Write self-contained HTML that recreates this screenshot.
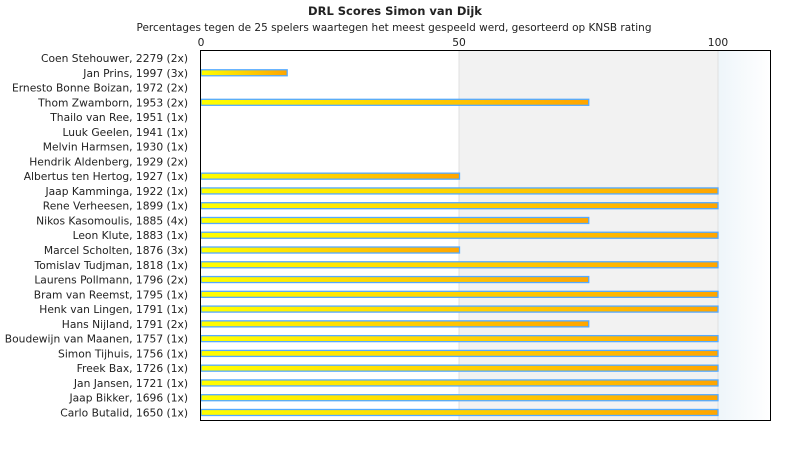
<!DOCTYPE html>
<html><head><meta charset="utf-8"><style>
body{margin:0;background:#fff;width:790px;height:450px;overflow:hidden}
text{font-family:"DejaVu Sans","Liberation Sans",sans-serif;font-size:10.7px;fill:#222}
</style></head><body>
<svg width="790" height="450" xmlns="http://www.w3.org/2000/svg">
<defs>
<linearGradient id="bar" x1="0" x2="1" y1="0" y2="0"><stop offset="0" stop-color="#ffff00"/><stop offset="1" stop-color="#ffa500"/></linearGradient>
<linearGradient id="bg3" x1="0" x2="1"><stop offset="0" stop-color="#eef5fa"/><stop offset="1" stop-color="#ffffff"/></linearGradient>
</defs>
<text x="395" y="15" text-anchor="middle" style="font-size:11.5px;font-weight:bold">DRL Scores Simon van Dijk</text>
<text x="394" y="31" text-anchor="middle" textLength="515" lengthAdjust="spacingAndGlyphs">Percentages tegen de 25 spelers waartegen het meest gespeeld werd, gesorteerd op KNSB rating</text>
<rect x="459" y="50" width="259" height="370" fill="#f2f2f2"/>
<rect x="718" y="50" width="52" height="370" fill="url(#bg3)"/>
<line x1="459" y1="50" x2="459" y2="420" stroke="#e0e0e0"/>
<line x1="718" y1="50" x2="718" y2="420" stroke="#e0e0e0"/>
<text x="201" y="46" text-anchor="middle">0</text>
<text x="459" y="46" text-anchor="middle">50</text>
<text x="718" y="46" text-anchor="middle">100</text>
<g id="rows"></g>
<rect x="200.5" y="50.5" width="570" height="370" fill="none" stroke="#000"/>
</svg>
<script>
var d=[["Coen Stehouwer, 2279 (2x)",0],["Jan Prins, 1997 (3x)",16.67],["Ernesto Bonne Boizan, 1972 (2x)",0],["Thom Zwamborn, 1953 (2x)",75],["Thailo van Ree, 1951 (1x)",0],["Luuk Geelen, 1941 (1x)",0],["Melvin Harmsen, 1930 (1x)",0],["Hendrik Aldenberg, 1929 (2x)",0],["Albertus ten Hertog, 1927 (1x)",50],["Jaap Kamminga, 1922 (1x)",100],["Rene Verheesen, 1899 (1x)",100],["Nikos Kasomoulis, 1885 (4x)",75],["Leon Klute, 1883 (1x)",100],["Marcel Scholten, 1876 (3x)",50],["Tomislav Tudjman, 1818 (1x)",100],["Laurens Pollmann, 1796 (2x)",75],["Bram van Reemst, 1795 (1x)",100],["Henk van Lingen, 1791 (1x)",100],["Hans Nijland, 1791 (2x)",75],["Boudewijn van Maanen, 1757 (1x)",100],["Simon Tijhuis, 1756 (1x)",100],["Freek Bax, 1726 (1x)",100],["Jan Jansen, 1721 (1x)",100],["Jaap Bikker, 1696 (1x)",100],["Carlo Butalid, 1650 (1x)",100]];
var g=document.getElementById("rows"),s="";
d.forEach(function(r,i){var c=58.0+i*14.77;
s+='<text x="188" y="'+(c+4)+'" text-anchor="end">'+r[0]+'</text>';
if(r[1]>0)s+='<rect x="201" y="'+(c-3)+'" width="'+(r[1]*5.17)+'" height="6" fill="url(#bar)" stroke="#55aaff" stroke-width="1.3"/>';});
g.innerHTML=s;
</script>
</body></html>
